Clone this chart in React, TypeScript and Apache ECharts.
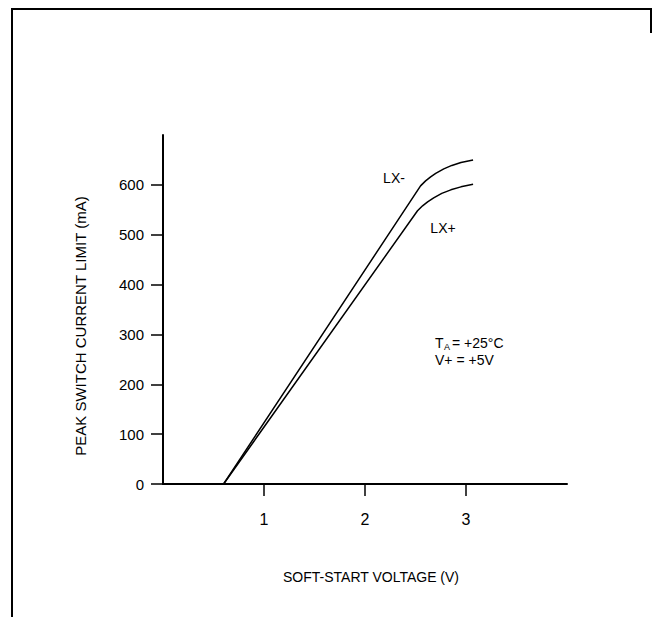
import React, { useEffect, useRef } from "react";
import * as echarts from "echarts";

const lxMinus: [number, number][] = [
  [0.6, 0], [2.55, 598], [2.6, 608], [2.65, 616], [2.7, 623], [2.78, 632], [2.86, 639], [2.95, 645], [3.07, 650],
];
const lxPlus: [number, number][] = [
  [0.6, 0], [2.52, 548], [2.57, 558], [2.62, 566], [2.68, 574], [2.76, 583], [2.85, 590], [2.95, 596], [3.07, 601],
];
const xTicks = [1, 2, 3];
const yTicks = [0, 100, 200, 300, 400, 500, 600];

const FONT = "'Liberation Sans', Arial, Helvetica, sans-serif";

export default function App() {
  const ref = useRef<HTMLDivElement>(null);
  useEffect(() => {
    if (!ref.current) return;
    const chart = echarts.init(ref.current, null, { renderer: "svg" });
    chart.setOption({
      animation: false,
      backgroundColor: "#ffffff",
      grid: { left: 163, top: 135, right: 85, bottom: 133 },
      xAxis: {
        type: "value",
        min: 0,
        max: 4,
        splitLine: { show: false },
        axisLine: { show: true, lineStyle: { color: "#000", width: 2 } },
        axisTick: { show: true, length: 12, customValues: xTicks, lineStyle: { color: "#000", width: 1.5 } },
        axisLabel: { customValues: xTicks, margin: 27, color: "#000", fontSize: 16, fontFamily: FONT },
      },
      yAxis: {
        type: "value",
        min: 0,
        max: 700,
        interval: 100,
        splitLine: { show: false },
        axisLine: { show: true, lineStyle: { color: "#000", width: 2 } },
        axisTick: { show: true, length: 12, customValues: yTicks, lineStyle: { color: "#000", width: 1.5 } },
        axisLabel: { customValues: yTicks, margin: 19, color: "#000", fontSize: 15, fontFamily: FONT },
      },
      series: [
        {
          name: "LX-",
          type: "line",
          data: lxMinus,
          smooth: false,
          symbol: "none",
          lineStyle: { color: "#000", width: 1.5 },
        },
        {
          name: "LX+",
          type: "line",
          data: lxPlus,
          smooth: false,
          symbol: "none",
          lineStyle: { color: "#000", width: 1.5 },
        },
      ],
      graphic: [
        {
          type: "polyline",
          shape: { points: [[12, 617], [12, 9], [651, 9], [651, 33]] },
          style: { stroke: "#000", lineWidth: 2, fill: "none" },
          silent: true,
        },
        {
          type: "text",
          x: 371,
          y: 577,
          style: {
            text: "SOFT-START VOLTAGE (V)",
            fontSize: 14,
            fontFamily: FONT,
            fill: "#000",
            align: "center",
            verticalAlign: "middle",
          },
        },
        {
          type: "text",
          x: 80,
          y: 326,
          rotation: Math.PI / 2,
          style: {
            text: "PEAK SWITCH CURRENT LIMIT (mA)",
            fontSize: 15,
            fontFamily: FONT,
            fill: "#000",
            align: "center",
            verticalAlign: "middle",
          },
        },
        {
          type: "text",
          x: 394,
          y: 178,
          style: { text: "LX-", fontSize: 14, fontFamily: FONT, fill: "#000", align: "center", verticalAlign: "middle" },
        },
        {
          type: "text",
          x: 443,
          y: 228,
          style: { text: "LX+", fontSize: 14, fontFamily: FONT, fill: "#000", align: "center", verticalAlign: "middle" },
        },
        {
          type: "text",
          x: 435,
          y: 343,
          style: { text: "T", fontSize: 14, fontFamily: FONT, fill: "#000", verticalAlign: "middle" },
        },
        {
          type: "text",
          x: 444,
          y: 347,
          style: { text: "A", fontSize: 9, fontFamily: FONT, fill: "#000", verticalAlign: "middle" },
        },
        {
          type: "text",
          x: 452,
          y: 343,
          style: { text: "= +25°C", fontSize: 14, fontFamily: FONT, fill: "#000", verticalAlign: "middle" },
        },
        {
          type: "text",
          x: 435,
          y: 360,
          style: { text: "V+ = +5V", fontSize: 14, fontFamily: FONT, fill: "#000", verticalAlign: "middle" },
        },
      ],
    });
    return () => chart.dispose();
  }, []);
  return (
    <div
      ref={ref}
      style={{ position: "fixed", left: 0, top: 0, width: 652, height: 617, background: "#fff" }}
    />
  );
}
